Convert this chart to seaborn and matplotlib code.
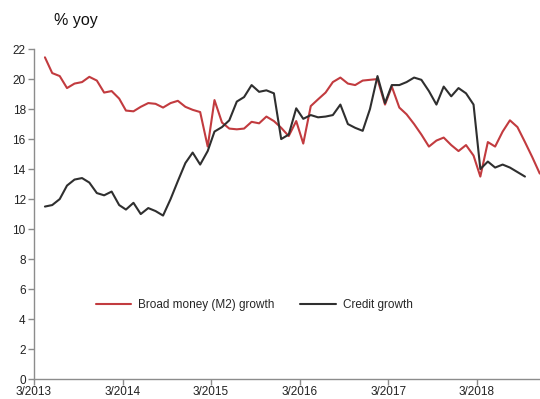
import matplotlib
matplotlib.use("Agg")
import matplotlib.pyplot as plt
import matplotlib.dates as mdates
import numpy as np
import pandas as pd
import seaborn as sns

# Monthly observations, mid-month, April 2013 onwards
months = pd.date_range("2013-04-01", periods=68, freq="MS") + pd.Timedelta(days=14)

m2_growth = [
    21.45, 20.4, 20.2, 19.4, 19.7, 19.8, 20.15, 19.9, 19.1, 19.2,
    18.7, 17.9, 17.85, 18.15, 18.4, 18.35, 18.1, 18.4, 18.55, 18.15,
    17.95, 17.8, 15.5, 18.6, 17.1, 16.7, 16.65, 16.7, 17.15, 17.05,
    17.5, 17.2, 16.75, 16.2, 17.2, 15.7, 18.2, 18.65, 19.1, 19.8,
    20.1, 19.7, 19.6, 19.9, 19.95, 20.0, 18.3, 19.5, 18.1, 17.65,
    17.0, 16.3, 15.5, 15.9, 16.1, 15.6, 15.2, 15.6, 14.9, 13.5,
    15.8, 15.5, 16.5, 17.25, 16.8, 15.8, 14.8, 13.7,
]

credit_growth = [
    11.5, 11.6, 12.0, 12.9, 13.3, 13.4, 13.1, 12.4, 12.25, 12.5,
    11.6, 11.3, 11.75, 11.0, 11.4, 11.2, 10.9, 12.0, 13.2, 14.4,
    15.1, 14.3, 15.2, 16.5, 16.8, 17.25, 18.5, 18.8, 19.6, 19.15,
    19.25, 19.05, 16.0, 16.3, 18.05, 17.35, 17.6, 17.45, 17.5, 17.6,
    18.3, 17.0, 16.75, 16.55, 18.0, 20.2, 18.4, 19.6, 19.6, 19.8,
    20.1, 19.95, 19.2, 18.3, 19.5, 18.85, 19.4, 19.05, 18.3, 14.0,
    14.5, 14.1, 14.3, 14.1, 13.8, 13.5,
]

series_names = ["Broad money (M2) growth", "Credit growth"]
tick_years = [2013, 2014, 2015, 2016, 2017, 2018]
y_ticks = list(range(0, 23, 2))

df = pd.concat([
    pd.DataFrame({"date": months[:len(m2_growth)], "value": m2_growth,
                  "series": series_names[0]}),
    pd.DataFrame({"date": months[:len(credit_growth)], "value": credit_growth,
                  "series": series_names[1]}),
])

sns.set_style("white")
plt.rcParams["font.family"] = ["Liberation Sans", "DejaVu Sans"]

fig = plt.figure(figsize=(5.4, 3.99), dpi=100)
ax = fig.add_axes([0.063, 0.050, 0.937, 0.827])

palette = {series_names[0]: "#c23b3f", series_names[1]: "#2f2f2f"}
sns.lineplot(data=df, x="date", y="value", hue="series", palette=palette,
             linewidth=1.5, ax=ax, legend=True)

ax.set_ylim(0, 22)
ax.set_xlim(pd.Timestamp("2013-03-01"), pd.Timestamp("2018-11-16"))
ax.set_yticks(y_ticks)
ax.set_xticks([pd.Timestamp(f"{y}-03-01") for y in tick_years])
ax.xaxis.set_major_formatter(mdates.DateFormatter("%-m/%Y"))
ax.set_xlabel("")
ax.set_ylabel("")

for side in ("top", "right"):
    ax.spines[side].set_visible(False)
for side in ("left", "bottom"):
    ax.spines[side].set_color("#8c8c8c")
    ax.spines[side].set_linewidth(1.0)

ax.tick_params(axis="both", which="major", direction="out", length=4,
               width=1.0, color="#8c8c8c", labelsize=8.5, labelcolor="#222222",
               pad=2)
ax.tick_params(axis="x", bottom=True, pad=1)
ax.tick_params(axis="y", left=True)

fig.text(0.10, 0.948, "% yoy", fontsize=11.5, color="#111111",
         va="center", ha="left")

ax.legend(title=None, frameon=False, ncol=2, loc="center",
          bbox_to_anchor=(0.435, 0.225), fontsize=8.5, handlelength=3.0,
          handletextpad=0.6, columnspacing=2.2)

fig.savefig("out.png", dpi=100)
